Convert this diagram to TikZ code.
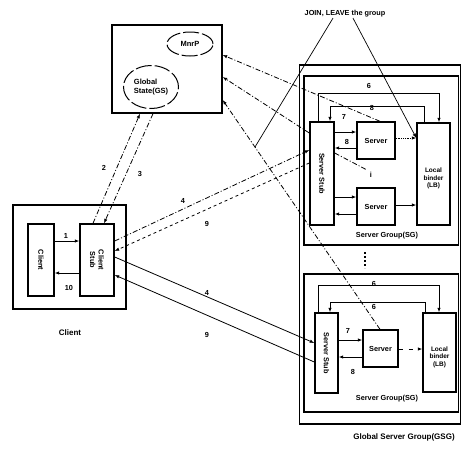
\documentclass[tikz,border=0pt]{standalone}
\usepackage{fontspec}
\setmainfont{Liberation Sans}
\usetikzlibrary{arrows.meta,shapes.geometric}
\begin{document}
\begin{tikzpicture}[x=1pt,y=-1pt, font=\bfseries\fontsize{7.3}{8}\selectfont,
 box/.style={draw, line width=1.4pt, inner sep=0pt, align=center},
 arr/.style={-{Latex[length=4.5pt,width=3.5pt]}, line width=0.8pt},
 ddot/.style={dash pattern=on 5pt off 2pt on 1pt off 2pt},
 lbl/.style={inner sep=0.5pt},
 ell/.style={draw, ellipse, line width=1pt, dash pattern=on 16pt off 3pt, inner sep=0pt, font=\bfseries\fontsize{7.5}{8.5}\selectfont},
 ]
\useasboundingbox (0,0) rectangle (461,448);
% Global state box
\node[box, minimum width=110pt, minimum height=88pt] (gs) at (167,69) {};
\node[ell, minimum width=46pt, minimum height=24pt] (mnrp) at (190,44) {MnrP};
\node[ell, minimum width=55pt, minimum height=43pt, align=left] (gsell) at (151,87) {Global\\State(GS)};
% Client
\node[box, minimum width=113pt, minimum height=104pt] (cbox) at (69.5,257) {};
\node[box, minimum width=26pt, minimum height=72pt] (client) at (41,260) {\rotatebox{-90}{Client}};
\node[box, minimum width=34pt, minimum height=72pt] (cstub) at (97,260) {\rotatebox{-90}{\shortstack{Client\\Stub}}};
\node[lbl, font=\bfseries\fontsize{8}{9}\selectfont] (clientlbl) at (70,333) {Client};
% Global server group
\node[draw, line width=1.1pt, minimum width=161.5pt, minimum height=359pt, inner sep=0pt] (gsg) at (380,244.5) {};
\node[lbl, font=\bfseries\fontsize{8}{9}\selectfont] (gsglbl) at (404,437) {Global Server Group(GSG)};
% Server group 1
\node[box, minimum width=154.5pt, minimum height=169pt] (sg1) at (381.25,160.5) {};
\node[box, minimum width=24pt, minimum height=103pt] (ss1) at (322,173.5) {\rotatebox{-90}{Server Stub}};
\node[box, minimum width=38pt, minimum height=37pt] (sv1) at (376,140.5) {Server};
\node[box, minimum width=38pt, minimum height=37pt] (sv2) at (376,206.5) {Server};
\node[box, minimum width=33pt, minimum height=102pt, font=\bfseries\fontsize{6.5}{7.5}\selectfont] (lb1) at (433.5,174) {\\[6pt]Local\\binder\\(LB)};
\node[lbl] (sg1lbl) at (387,236) {Server Group(SG)};
% Server group 2
\node[box, minimum width=154.5pt, minimum height=138pt] (sg2) at (381.25,343) {};
\node[box, minimum width=23pt, minimum height=80pt] (ss2) at (326.5,353) {\rotatebox{-90}{Server Stub}};
\node[box, minimum width=35pt, minimum height=37pt] (sv3) at (380.5,348.5) {Server};
\node[box, minimum width=33pt, minimum height=79pt, font=\bfseries\fontsize{6.5}{7.5}\selectfont] (lb2) at (439.5,352.5) {\\[6pt]Local\\binder\\(LB)};
\node[lbl] (sg2lbl) at (387,399) {Server Group(SG)};
\draw[line width=1.6pt, dash pattern=on 1.6pt off 2.4pt] (365,252) -- (365,268);
% JOIN / LEAVE
\node[lbl] (join) at (345,14) {JOIN, LEAVE the group};
\coordinate (jend) at (255,147);
\draw[line width=0.7pt] (join.south -| 333,0) -- (jend);
\draw[arr, line width=0.7pt] (join.south -| 353,0) -- (lb1.west |- 0,138);
% client internal
\draw[arr] (client.east |- 0,241) -- (cstub.west |- 0,241);
\draw[arr] (cstub.west |- 0,273) -- (client.east |- 0,273);
\node[lbl] at (66,236) {1};
\node[lbl] at (69,288) {10};
% client stub <-> GS
\draw[arr,ddot] (cstub.north -| 93,0) -- (gs.south -| 140,0);
\draw[arr,ddot] (gs.south -| 153,0) -- (cstub.north -| 104,0);
\node[lbl] at (104,168) {2};
\node[lbl] at (140,174) {3};
% client stub <-> SG1
\draw[arr,ddot] (cstub.east |- 0,241) -- (ss1.west |- 0,150);
\draw[arr,dashed] (ss1.west |- 0,163) -- (cstub.east |- 0,251);
\node[lbl] at (183,201) {4};
\node[lbl] at (207,224) {9};
% client stub <-> SG2
\draw[arr] (cstub.east |- 0,257) -- (ss2.west |- 0,343);
\draw[arr] (ss2.west |- 0,362) -- (cstub.east |- 0,275);
\node[lbl] at (207,293) {4};
\node[lbl] at (207,335) {9};
% SG1 internals
\draw[arr] (ss1.north -| 318,0) -- (318,93) -| (lb1.north -| 439,0);
\draw[arr] (lb1.north -| 424,0) -- (424,106) -| (ss1.north -| 330,0);
\node[lbl] at (369,86) {6};
\node[lbl] at (372,108) {8};
\node[lbl] at (344,117) {7};
\draw[arr] (ss1.east |- 0,132) -- (sv1.west |- 0,132);
\draw[arr] (sv1.west |- 0,148) -- (ss1.east |- 0,148);
\node[lbl] at (347,142) {8};
\draw[arr] (ss1.east |- 0,197) -- (sv2.west |- 0,197);
\draw[arr] (sv2.west |- 0,214) -- (ss1.east |- 0,214);
\draw[arr] (sv2.east |- 0,205) -- (lb1.west |- 0,205);
\draw[arr, densely dotted] (sv1.east |- 0,138) -- (lb1.west |- 0,138);
\coordinate (iend) at (367,170);
\draw[ddot, line width=0.8pt] (ss1.east |- 0,153) -- (iend);
\node[lbl] at (371,175) {i};
% SG2 internals
\draw[arr] (ss2.north -| 318,0) -- (318,285) -| (lb2.north -| 439,0);
\draw[arr] (lb2.north -| 425,0) -- (425,302) -| (ss2.north -| 330,0);
\node[lbl] at (374,284) {6};
\node[lbl] at (374,307) {6};
\draw[arr] (ss2.east |- 0,340) -- (sv3.west |- 0,340);
\draw[arr] (sv3.west |- 0,357) -- (ss2.east |- 0,357);
\node[lbl] at (348,331) {7};
\node[lbl] at (353,372) {8};
\draw[arr, dash pattern=on 4pt off 6pt] (sv3.east |- 0,349) -- (lb2.west |- 0,349);
% servers -> GS
\draw[arr,ddot] (sv1.north -| 380,0) -- (gs.east |- 0,55);
\draw[arr,ddot] (ss1.west |- 0,133) -- (gs.east |- 0,77);
\draw[arr,ddot] (sv3.north -| 380,0) -- (gs.east |- 0,100);
\end{tikzpicture}
\end{document}
